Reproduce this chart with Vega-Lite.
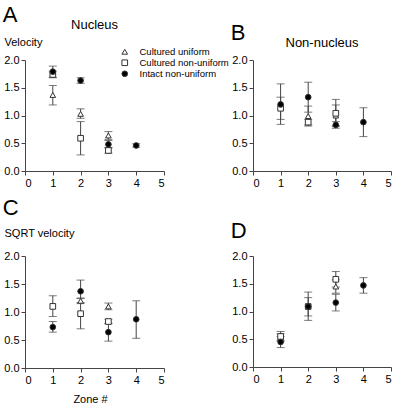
{
  "$schema": "https://vega.github.io/schema/vega-lite/v6.json",
  "padding": {"left": 2, "top": 4, "right": 2, "bottom": 0},
  "config": {
    "font": "Liberation Sans",
    "view": {"stroke": null},
    "axis": {"grid": false, "domainColor": "#444", "tickColor": "#444", "labelColor": "#000", "labelFontSize": 11, "tickSize": 4, "labelPadding": 2, "labelOverlap": false, "titleFontWeight": "normal", "titleFontSize": 11, "titleColor": "#000"},
    "axisY": {"tickCount": 5},
    "title": {"fontWeight": "normal", "color": "#000"},
    "legend": {"labelFontSize": 9.5, "symbolSize": 32, "symbolStrokeWidth": 1, "rowPadding": 0, "labelOffset": 10, "padding": 0, "labelColor": "#000"}
  },
  "datasets": {
    "d": [
      {"panel": "A", "zone": 1, "series": "Cultured uniform", "mean": 1.37, "lo": 1.19, "hi": 1.54},
      {"panel": "A", "zone": 2, "series": "Cultured uniform", "mean": 1.03, "lo": 0.95, "hi": 1.12},
      {"panel": "A", "zone": 3, "series": "Cultured uniform", "mean": 0.64, "lo": 0.57, "hi": 0.71},
      {"panel": "A", "zone": 1, "series": "Cultured non-uniform", "mean": 1.74, "lo": 1.68, "hi": 1.8},
      {"panel": "A", "zone": 2, "series": "Cultured non-uniform", "mean": 0.59, "lo": 0.29, "hi": 0.89},
      {"panel": "A", "zone": 3, "series": "Cultured non-uniform", "mean": 0.37, "lo": 0.32, "hi": 0.42},
      {"panel": "A", "zone": 1, "series": "Intact non-uniform", "mean": 1.79, "lo": 1.69, "hi": 1.89},
      {"panel": "A", "zone": 2, "series": "Intact non-uniform", "mean": 1.63, "lo": 1.58, "hi": 1.68},
      {"panel": "A", "zone": 3, "series": "Intact non-uniform", "mean": 0.48, "lo": 0.42, "hi": 0.55},
      {"panel": "A", "zone": 4, "series": "Intact non-uniform", "mean": 0.46, "lo": 0.43, "hi": 0.49},
      {"panel": "B", "zone": 2, "series": "Cultured uniform", "mean": 0.99, "lo": 0.81, "hi": 1.17},
      {"panel": "B", "zone": 3, "series": "Cultured uniform", "mean": 1.0, "lo": 0.82, "hi": 1.19},
      {"panel": "B", "zone": 1, "series": "Cultured non-uniform", "mean": 1.13, "lo": 0.93, "hi": 1.33},
      {"panel": "B", "zone": 2, "series": "Cultured non-uniform", "mean": 0.88, "lo": 0.83, "hi": 0.93},
      {"panel": "B", "zone": 3, "series": "Cultured non-uniform", "mean": 1.04, "lo": 0.8, "hi": 1.29},
      {"panel": "B", "zone": 1, "series": "Intact non-uniform", "mean": 1.2, "lo": 0.84, "hi": 1.57},
      {"panel": "B", "zone": 2, "series": "Intact non-uniform", "mean": 1.33, "lo": 1.06, "hi": 1.6},
      {"panel": "B", "zone": 3, "series": "Intact non-uniform", "mean": 0.83, "lo": 0.77, "hi": 0.89},
      {"panel": "B", "zone": 4, "series": "Intact non-uniform", "mean": 0.88, "lo": 0.62, "hi": 1.14},
      {"panel": "C", "zone": 2, "series": "Cultured uniform", "mean": 1.2, "lo": 1.15, "hi": 1.25},
      {"panel": "C", "zone": 3, "series": "Cultured uniform", "mean": 1.1, "lo": 1.04, "hi": 1.16},
      {"panel": "C", "zone": 1, "series": "Cultured non-uniform", "mean": 1.1, "lo": 0.92, "hi": 1.29},
      {"panel": "C", "zone": 2, "series": "Cultured non-uniform", "mean": 0.97, "lo": 0.7, "hi": 1.24},
      {"panel": "C", "zone": 3, "series": "Cultured non-uniform", "mean": 0.83, "lo": 0.79, "hi": 0.87},
      {"panel": "C", "zone": 1, "series": "Intact non-uniform", "mean": 0.73, "lo": 0.64, "hi": 0.83},
      {"panel": "C", "zone": 2, "series": "Intact non-uniform", "mean": 1.37, "lo": 1.17, "hi": 1.57},
      {"panel": "C", "zone": 3, "series": "Intact non-uniform", "mean": 0.64, "lo": 0.48, "hi": 0.8},
      {"panel": "C", "zone": 4, "series": "Intact non-uniform", "mean": 0.87, "lo": 0.53, "hi": 1.2},
      {"panel": "D", "zone": 1, "series": "Cultured uniform", "mean": 0.53, "lo": 0.47, "hi": 0.6},
      {"panel": "D", "zone": 3, "series": "Cultured uniform", "mean": 1.45, "lo": 1.33, "hi": 1.57},
      {"panel": "D", "zone": 1, "series": "Cultured non-uniform", "mean": 0.55, "lo": 0.47, "hi": 0.64},
      {"panel": "D", "zone": 2, "series": "Cultured non-uniform", "mean": 1.09, "lo": 0.84, "hi": 1.35},
      {"panel": "D", "zone": 3, "series": "Cultured non-uniform", "mean": 1.58, "lo": 1.44, "hi": 1.72},
      {"panel": "D", "zone": 1, "series": "Intact non-uniform", "mean": 0.45, "lo": 0.35, "hi": 0.55},
      {"panel": "D", "zone": 2, "series": "Intact non-uniform", "mean": 1.09, "lo": 0.92, "hi": 1.25},
      {"panel": "D", "zone": 3, "series": "Intact non-uniform", "mean": 1.16, "lo": 1.01, "hi": 1.31},
      {"panel": "D", "zone": 4, "series": "Intact non-uniform", "mean": 1.47, "lo": 1.33, "hi": 1.61}
    ]
  },
  "data": {"name": "d"},
  "columns": 2,
  "spacing": {"row": 9, "column": 65},
  "concat": [
    {
      "title": {"text": "A", "anchor": "start", "frame": "bounds", "fontSize": 22, "offset": -8, "dx": -1},
      "vconcat": [{
        "title": {"text": "Nucleus", "fontSize": 13, "anchor": "middle", "frame": "group", "offset": 4},
        "width": 139, "height": 111,
        "transform": [{"filter": "datum.panel === 'A'"}],
        "encoding": {"x": {"field": "zone", "type": "quantitative", "scale": {"domain": [0, 5], "nice": false, "zero": false}, "axis": {"values": [0, 1, 2, 3, 4, 5], "title": null}}},
        "layer": [
          {"mark": {"type": "rule", "color": "#444", "strokeWidth": 1}, "encoding": {"y": {"field": "lo", "type": "quantitative", "scale": {"domain": [0, 2], "nice": false}, "axis": {"values": [0, 0.5, 1, 1.5, 2], "format": ".1f", "title": "Velocity", "titleAngle": 0, "titleAlign": "left", "titleBaseline": "alphabetic", "titleX": -21, "titleY": -15}}, "y2": {"field": "hi"}}},
          {"mark": {"type": "tick", "orient": "horizontal", "size": 8, "thickness": 1, "color": "#444"}, "encoding": {"y": {"field": "lo", "type": "quantitative", "axis": {"values": [0, 0.5, 1, 1.5, 2], "format": ".1f", "title": "Velocity", "titleAngle": 0, "titleAlign": "left", "titleBaseline": "alphabetic", "titleX": -21, "titleY": -15}}}},
          {"mark": {"type": "tick", "orient": "horizontal", "size": 8, "thickness": 1, "color": "#444"}, "encoding": {"y": {"field": "hi", "type": "quantitative", "axis": {"values": [0, 0.5, 1, 1.5, 2], "format": ".1f", "title": "Velocity", "titleAngle": 0, "titleAlign": "left", "titleBaseline": "alphabetic", "titleX": -21, "titleY": -15}}}},
          {"mark": {"type": "point", "filled": false, "stroke": "#333", "strokeWidth": 1, "size": 32, "opacity": 1, "fillOpacity": 1}, "encoding": {
            "y": {"field": "mean", "type": "quantitative", "axis": {"values": [0, 0.5, 1, 1.5, 2], "format": ".1f", "title": "Velocity", "titleAngle": 0, "titleAlign": "left", "titleBaseline": "alphabetic", "titleX": -21, "titleY": -15}},
            "shape": {"field": "series", "type": "nominal", "scale": {"domain": ["Cultured uniform", "Cultured non-uniform", "Intact non-uniform"], "range": ["triangle-up", "square", "circle"]}, "legend": {"title": null, "orient": "none", "legendX": 95, "legendY": -13, "encode": {"symbols": {"stroke": {"value": "#333"}, "strokeWidth": {"value": 1}}}}},
            "fill": {"field": "series", "type": "nominal", "scale": {"domain": ["Cultured uniform", "Cultured non-uniform", "Intact non-uniform"], "range": ["#ffffff", "#ffffff", "#000000"]}, "legend": {"title": null, "orient": "none", "legendX": 95, "legendY": -13, "encode": {"symbols": {"stroke": {"value": "#333"}, "strokeWidth": {"value": 1}}}}}
          }}
        ]
      }]
    },
    {
      "title": {"text": "B", "anchor": "start", "frame": "bounds", "fontSize": 22, "offset": -8, "dx": -1},
      "vconcat": [{
        "title": {"text": "Non-nucleus", "fontSize": 13, "anchor": "middle", "frame": "group", "offset": 4},
        "width": 138, "height": 111,
        "transform": [{"filter": "datum.panel === 'B'"}],
        "encoding": {"x": {"field": "zone", "type": "quantitative", "scale": {"domain": [0, 5], "nice": false, "zero": false}, "axis": {"values": [0, 1, 2, 3, 4, 5], "title": null}}},
        "layer": [
          {"mark": {"type": "rule", "color": "#444", "strokeWidth": 1}, "encoding": {"y": {"field": "lo", "type": "quantitative", "scale": {"domain": [0, 2], "nice": false}, "axis": {"values": [0, 0.5, 1, 1.5, 2], "format": ".1f", "title": null}}, "y2": {"field": "hi"}}},
          {"mark": {"type": "tick", "orient": "horizontal", "size": 8, "thickness": 1, "color": "#444"}, "encoding": {"y": {"field": "lo", "type": "quantitative", "axis": {"values": [0, 0.5, 1, 1.5, 2], "format": ".1f", "title": null}}}},
          {"mark": {"type": "tick", "orient": "horizontal", "size": 8, "thickness": 1, "color": "#444"}, "encoding": {"y": {"field": "hi", "type": "quantitative", "axis": {"values": [0, 0.5, 1, 1.5, 2], "format": ".1f", "title": null}}}},
          {"mark": {"type": "point", "filled": false, "stroke": "#333", "strokeWidth": 1, "size": 32, "opacity": 1, "fillOpacity": 1}, "encoding": {
            "y": {"field": "mean", "type": "quantitative", "axis": {"values": [0, 0.5, 1, 1.5, 2], "format": ".1f", "title": null}},
            "shape": {"field": "series", "type": "nominal", "scale": {"domain": ["Cultured uniform", "Cultured non-uniform", "Intact non-uniform"], "range": ["triangle-up", "square", "circle"]}, "legend": {"title": null, "orient": "none", "legendX": 95, "legendY": -13, "encode": {"symbols": {"stroke": {"value": "#333"}, "strokeWidth": {"value": 1}}}}},
            "fill": {"field": "series", "type": "nominal", "scale": {"domain": ["Cultured uniform", "Cultured non-uniform", "Intact non-uniform"], "range": ["#ffffff", "#ffffff", "#000000"]}, "legend": {"title": null, "orient": "none", "legendX": 95, "legendY": -13, "encode": {"symbols": {"stroke": {"value": "#333"}, "strokeWidth": {"value": 1}}}}}
          }}
        ]
      }]
    },
    {
      "title": {"text": "C", "anchor": "start", "frame": "bounds", "fontSize": 22, "offset": 7, "dx": -1},
      "vconcat": [{
        "width": 139, "height": 112,
        "transform": [{"filter": "datum.panel === 'C'"}],
        "encoding": {"x": {"field": "zone", "type": "quantitative", "scale": {"domain": [0, 5], "nice": false, "zero": false}, "axis": {"values": [0, 1, 2, 3, 4, 5], "title": "Zone #", "titlePadding": 8, "titleX": 65}}},
        "layer": [
          {"mark": {"type": "rule", "color": "#444", "strokeWidth": 1}, "encoding": {"y": {"field": "lo", "type": "quantitative", "scale": {"domain": [0, 2], "nice": false}, "axis": {"values": [0, 0.5, 1, 1.5, 2], "format": ".1f", "title": "SQRT velocity", "titleAngle": 0, "titleAlign": "left", "titleBaseline": "alphabetic", "titleX": -21, "titleY": -20}}, "y2": {"field": "hi"}}},
          {"mark": {"type": "tick", "orient": "horizontal", "size": 8, "thickness": 1, "color": "#444"}, "encoding": {"y": {"field": "lo", "type": "quantitative", "axis": {"values": [0, 0.5, 1, 1.5, 2], "format": ".1f", "title": "SQRT velocity", "titleAngle": 0, "titleAlign": "left", "titleBaseline": "alphabetic", "titleX": -21, "titleY": -20}}}},
          {"mark": {"type": "tick", "orient": "horizontal", "size": 8, "thickness": 1, "color": "#444"}, "encoding": {"y": {"field": "hi", "type": "quantitative", "axis": {"values": [0, 0.5, 1, 1.5, 2], "format": ".1f", "title": "SQRT velocity", "titleAngle": 0, "titleAlign": "left", "titleBaseline": "alphabetic", "titleX": -21, "titleY": -20}}}},
          {"mark": {"type": "point", "filled": false, "stroke": "#333", "strokeWidth": 1, "size": 32, "opacity": 1, "fillOpacity": 1}, "encoding": {
            "y": {"field": "mean", "type": "quantitative", "axis": {"values": [0, 0.5, 1, 1.5, 2], "format": ".1f", "title": "SQRT velocity", "titleAngle": 0, "titleAlign": "left", "titleBaseline": "alphabetic", "titleX": -21, "titleY": -20}},
            "shape": {"field": "series", "type": "nominal", "scale": {"domain": ["Cultured uniform", "Cultured non-uniform", "Intact non-uniform"], "range": ["triangle-up", "square", "circle"]}, "legend": {"title": null, "orient": "none", "legendX": 95, "legendY": -13, "encode": {"symbols": {"stroke": {"value": "#333"}, "strokeWidth": {"value": 1}}}}},
            "fill": {"field": "series", "type": "nominal", "scale": {"domain": ["Cultured uniform", "Cultured non-uniform", "Intact non-uniform"], "range": ["#ffffff", "#ffffff", "#000000"]}, "legend": {"title": null, "orient": "none", "legendX": 95, "legendY": -13, "encode": {"symbols": {"stroke": {"value": "#333"}, "strokeWidth": {"value": 1}}}}}
          }}
        ]
      }]
    },
    {
      "title": {"text": "D", "anchor": "start", "frame": "bounds", "fontSize": 22, "offset": 7, "dx": -1},
      "vconcat": [{
        "width": 138, "height": 111,
        "transform": [{"filter": "datum.panel === 'D'"}],
        "encoding": {"x": {"field": "zone", "type": "quantitative", "scale": {"domain": [0, 5], "nice": false, "zero": false}, "axis": {"values": [0, 1, 2, 3, 4, 5], "title": null}}},
        "layer": [
          {"mark": {"type": "rule", "color": "#444", "strokeWidth": 1}, "encoding": {"y": {"field": "lo", "type": "quantitative", "scale": {"domain": [0, 2], "nice": false}, "axis": {"values": [0, 0.5, 1, 1.5, 2], "format": ".1f", "title": null}}, "y2": {"field": "hi"}}},
          {"mark": {"type": "tick", "orient": "horizontal", "size": 8, "thickness": 1, "color": "#444"}, "encoding": {"y": {"field": "lo", "type": "quantitative", "axis": {"values": [0, 0.5, 1, 1.5, 2], "format": ".1f", "title": null}}}},
          {"mark": {"type": "tick", "orient": "horizontal", "size": 8, "thickness": 1, "color": "#444"}, "encoding": {"y": {"field": "hi", "type": "quantitative", "axis": {"values": [0, 0.5, 1, 1.5, 2], "format": ".1f", "title": null}}}},
          {"mark": {"type": "point", "filled": false, "stroke": "#333", "strokeWidth": 1, "size": 32, "opacity": 1, "fillOpacity": 1}, "encoding": {
            "y": {"field": "mean", "type": "quantitative", "axis": {"values": [0, 0.5, 1, 1.5, 2], "format": ".1f", "title": null}},
            "shape": {"field": "series", "type": "nominal", "scale": {"domain": ["Cultured uniform", "Cultured non-uniform", "Intact non-uniform"], "range": ["triangle-up", "square", "circle"]}, "legend": {"title": null, "orient": "none", "legendX": 95, "legendY": -13, "encode": {"symbols": {"stroke": {"value": "#333"}, "strokeWidth": {"value": 1}}}}},
            "fill": {"field": "series", "type": "nominal", "scale": {"domain": ["Cultured uniform", "Cultured non-uniform", "Intact non-uniform"], "range": ["#ffffff", "#ffffff", "#000000"]}, "legend": {"title": null, "orient": "none", "legendX": 95, "legendY": -13, "encode": {"symbols": {"stroke": {"value": "#333"}, "strokeWidth": {"value": 1}}}}}
          }}
        ]
      }]
    }
  ]
}
